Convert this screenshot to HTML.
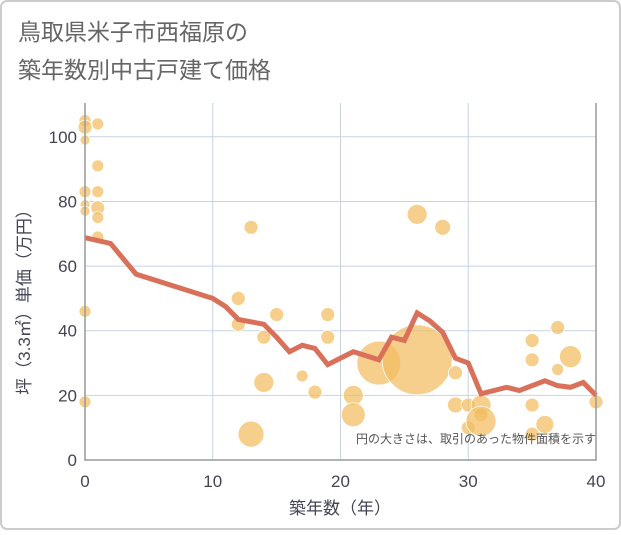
<!DOCTYPE html>
<html><head><meta charset="utf-8"><style>
body{margin:0;background:#fff;font-family:"Liberation Sans","Noto Sans CJK JP",sans-serif;}
#wrap{position:relative;width:621px;height:530px;}
</style></head><body>
<div id="wrap">
<svg id="chart" width="621" height="530" xmlns="http://www.w3.org/2000/svg">
<rect x="1" y="1" width="619" height="528" rx="6" fill="#fff" stroke="#ccc" stroke-width="2"/>
<text x="18" y="40" font-size="23" fill="#666">鳥取県米子市西福原の</text>
<text x="18" y="78" font-size="23" fill="#666">築年数別中古戸建て価格</text>
<g id="grid"></g>
<g id="bubbles"></g>
<g id="line"></g>
<g id="axes"></g>
<text x="596" y="443" font-size="12" fill="#555" text-anchor="end">円の大きさは、取引のあった物件面積を示す</text>
<text x="340" y="514" font-size="17" fill="#445" text-anchor="middle">築年数（年）</text>
<text transform="translate(30,298) rotate(-90)" font-size="17" fill="#445" text-anchor="middle">坪（3.3㎡）単価（万円）</text>
</svg>
</div>
<script>
const xTicks=[0,10,20,30,40];
const yTicks=[0,20,40,60,80,100];
const lineYears=[0,2,4,10,11,12,14,15,16,17,18,19,21,23,24,25,26,27,28,29,30,31,33,34,36,37,38,39,40];
const lineValues=[68.8,67,57.5,50,47.5,43.5,42,38,33.5,35.5,34.5,29.5,33.5,31,38,37,45.5,43,39.5,31.5,30,20.5,22.5,21.5,24.5,23,22.5,24,20];
const bubbleYears=[0,0,0,1,1,0,1,0,1,0,1,1,0,0,13,12,12,14,15,19,19,17,18,14,13,21,21,23,26,26,28,29,29,30,30,31,31,31,35,35,35,37,37,38,36,35,40];
const bubbleValues=[105,103,99,104,91,83,83,79,78,77,75,69,46,18,72,50,42,38,45,45,38,26,21,24,8,20,14,30,31,76,72,27,17,17,10,17,14,12,37,31,17,41,28,32,11,8,18];
const bubbleSizes=[6,7,5,6,6,6,6,5,7,5,6,6,6,6,7,7,7,7,7,7,7,6,7,10,13,10,12,22,35,10,8,7,8,7,7,10,7,15,7,7,7,7,6,11,9,7,7];
const NS="http://www.w3.org/2000/svg";
const X0=85,X1=596,Y0=460,Y1=103;
const xs=v=>X0+(v/40)*(X1-X0);
const ys=v=>Y0-v*3.232;
function mk(t,a,p){const e=document.createElementNS(NS,t);for(const k in a)e.setAttribute(k,a[k]);p.appendChild(e);return e;}
const grid=document.getElementById('grid'),axes=document.getElementById('axes');
xTicks.forEach(t=>{
 const l=mk('line',{x1:xs(t),x2:xs(t),y1:Y1,y2:Y0,stroke:'#c8d4e3','stroke-width':1},grid);
 
 
 const tx=mk('text',{x:xs(t),y:487,'font-size':17,fill:'#445','text-anchor':'middle'},axes);
 tx.textContent=t;
 
 
});
yTicks.forEach(t=>{
 const l=mk('line',{x1:X0,x2:X1,y1:ys(t),y2:ys(t),stroke:'#c8d4e3','stroke-width':1},grid);
 
 
 const tx=mk('text',{x:77,y:ys(t)+6,'font-size':17,fill:'#445','text-anchor':'end'},axes);
 tx.textContent=t;
 
 
});
const ax=mk('path',{d:`M${X0} ${Y1}V${Y0}H${X1}V${Y1}`,fill:'none',stroke:'#999','stroke-width':1.5},axes);


const bg=document.getElementById('bubbles');
bubbleYears.forEach((yr,i)=>{
 const c=mk('circle',{cx:xs(yr),cy:ys(bubbleValues[i]),r:bubbleSizes[i],fill:'#f3bc60','fill-opacity':0.72,stroke:'#fff','stroke-width':0.8},bg);
 
 
});
const pts=lineYears.map((y,i)=>xs(y)+','+ys(lineValues[i])).join(' ');
const pl=mk('polyline',{points:pts,fill:'none',stroke:'#d9705a','stroke-width':5,'stroke-linejoin':'miter'},document.getElementById('line'));


</script>
</body></html>
